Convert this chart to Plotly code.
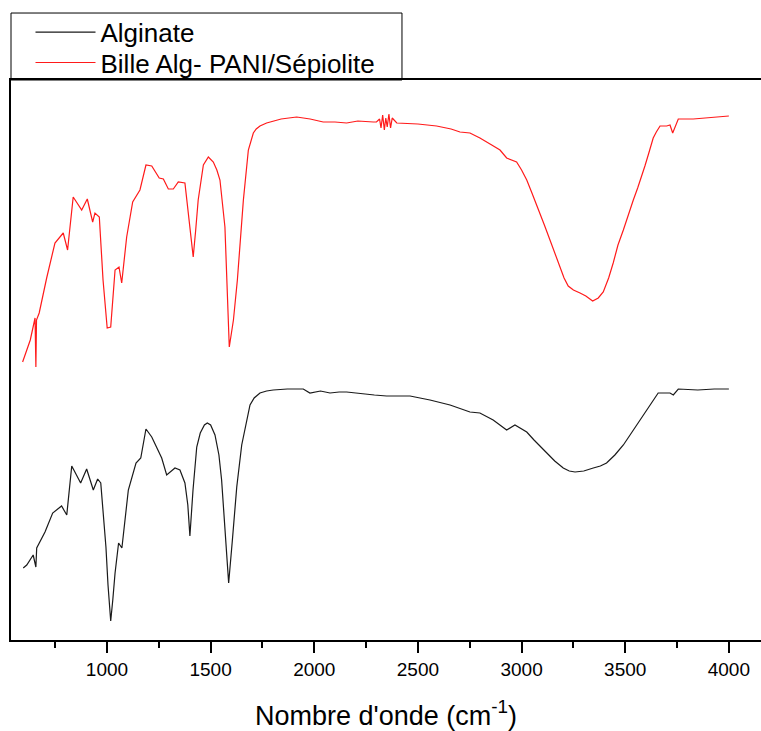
import plotly.graph_objects as go

# Wavenumber (cm-1) and relative transmittance (a.u.)
alg_wn = [596, 613, 644, 657, 661, 701, 738, 781, 806, 830, 873, 902, 934, 955, 970,
          995, 1005, 1018, 1028, 1039, 1056, 1072, 1103, 1140, 1163, 1188, 1216, 1264,
          1288, 1328, 1352, 1376, 1390, 1400, 1415, 1433, 1450, 1470, 1484, 1500, 1521,
          1540, 1553, 1570, 1587, 1605, 1626, 1650, 1674, 1690, 1710, 1738, 1770, 1802,
          1870, 1947, 1979, 2030, 2076, 2120, 2156, 2236, 2290, 2349, 2462, 2558, 2655,
          2751, 2799, 2863, 2928, 2968, 3025, 3060, 3121, 3160, 3201, 3230, 3258, 3300,
          3346, 3380, 3410, 3450, 3491, 3530, 3571, 3600, 3628, 3659, 3716, 3732, 3756,
          3850, 3930, 4000]
alg_t = [72, 75, 85, 73, 92, 108, 127, 134, 125, 174, 157, 171, 150, 161, 157,
         93, 55, 19, 40, 67, 97, 92, 150, 177, 182, 211, 203, 182,
         165, 172, 170, 157, 135, 104, 150, 193, 207, 215, 217, 215, 205,
         185, 160, 110, 57, 100, 153, 195, 217, 235, 242, 247, 249, 250,
         251, 251, 247, 249, 247, 248, 248, 246, 245, 244, 244, 240, 235,
         228, 227, 220, 210, 215, 208, 200, 187, 179, 172, 169, 168, 169,
         172, 174, 177, 185, 195, 207, 220, 229, 237, 247, 247, 245, 251,
         250, 251, 251]

bille_wn = [593, 610, 630, 653, 657, 660, 673, 709, 749, 789, 810, 837, 878, 905, 931,
            942, 963, 981, 1001, 1018, 1039, 1058, 1071, 1095, 1124, 1159, 1188, 1216,
            1252, 1272, 1296, 1320, 1344, 1376, 1392, 1405, 1416, 1428, 1440, 1465, 1489,
            1513, 1530, 1545, 1569, 1590, 1610, 1629, 1658, 1682, 1706, 1720, 1738, 1770,
            1800, 1840, 1915, 1980, 2043, 2100, 2156, 2210, 2285, 2300, 2315, 2322, 2330,
            2338, 2345, 2352, 2360, 2368, 2376, 2398, 2500, 2590, 2660, 2703, 2751, 2799,
            2856, 2896, 2928, 2976, 3000, 3025, 3050, 3089, 3110, 3137, 3160, 3185, 3205,
            3225, 3250, 3282, 3310, 3343, 3370, 3394, 3420, 3442, 3465, 3491, 3515, 3539,
            3560, 3579, 3595, 3611, 3625, 3635, 3650, 3668, 3700, 3716, 3729, 3756, 3828,
            3900, 4000]
bille_t = [278, 288, 300, 322, 273, 320, 327, 362, 397, 407, 390, 443, 430, 441, 418,
           427, 423, 360, 312, 313, 370, 373, 357, 403, 438, 450, 475, 474,
           462, 461, 451, 451, 458, 457, 428, 405, 383, 410, 440, 475, 483,
           478, 470, 460, 413, 293, 320, 360, 440, 490, 507, 511, 514, 517,
           519, 521, 523, 521, 518, 518, 517, 519, 518, 518, 521, 512, 525,
           510, 522, 513, 526, 512, 522, 517, 516, 514, 511, 508, 507, 502,
           495, 490, 482, 478, 470, 460, 447, 427, 415, 400, 387, 373, 362,
           354, 350, 347, 344, 339, 342, 348, 362, 377, 395, 410, 426, 440,
           452, 463, 474, 485, 494, 502, 508, 514, 514, 515, 507, 521, 521,
           522, 524]

tick_vals = [1000, 1500, 2000, 2500, 3000, 3500, 4000]
tick_text = ["1000", "1500", "2000", "2500", "3000", "3500", "4000"]

FONT = "Arial, Liberation Sans, sans-serif"

fig = go.Figure()
fig.add_trace(go.Scatter(x=alg_wn, y=alg_t, mode="lines", name="Alginate",
                         line=dict(color="#1a1a1a", width=1.2), legend="legend"))
fig.add_trace(go.Scatter(x=bille_wn, y=bille_t, mode="lines",
                         name="Bille Alg- PANI/Sépiolite",
                         line=dict(color="#ff1a1a", width=1.2), legend="legend2"))

leg_common = dict(xanchor="left", yanchor="top", bgcolor="rgba(0,0,0,0)",
                  borderwidth=0, font=dict(size=26, family=FONT), itemwidth=60)

fig.update_layout(
    width=761, height=731,
    margin=dict(l=11, r=0, t=80, b=91),
    paper_bgcolor="white", plot_bgcolor="white",
    font=dict(family=FONT, color="black"),
    showlegend=True,
    legend=dict(x=0.026, y=1.1274, **leg_common),
    legend2=dict(x=0.026, y=1.073, **leg_common),
    xaxis=dict(range=[537, 4155], showline=True, linecolor="black", linewidth=2,
               mirror=True, showgrid=False, zeroline=False,
               ticks="outside", ticklen=11, tickwidth=2, tickcolor="black",
               tickvals=tick_vals, ticktext=tick_text,
               tickfont=dict(size=19, family=FONT),
               minor=dict(tickvals=[750, 1250, 1750, 2250, 2750, 3250, 3750],
                          ticks="outside", ticklen=6, tickwidth=2, tickcolor="black"),
               title=dict(text="Nombre d'onde (cm<sup>-1</sup>)",
                          font=dict(size=27, family=FONT), standoff=27)),
    yaxis=dict(range=[0, 560], showline=True, linecolor="black", linewidth=2,
               mirror=False, showgrid=False, zeroline=False,
               showticklabels=False, ticks=""),
    shapes=[dict(type="rect", xref="paper", yref="paper",
                 x0=0, x1=0.5213, y0=1.0, y1=1.1196,
                 line=dict(color="black", width=1), fillcolor="rgba(0,0,0,0)")],
)

fig.write_html("out.html")
